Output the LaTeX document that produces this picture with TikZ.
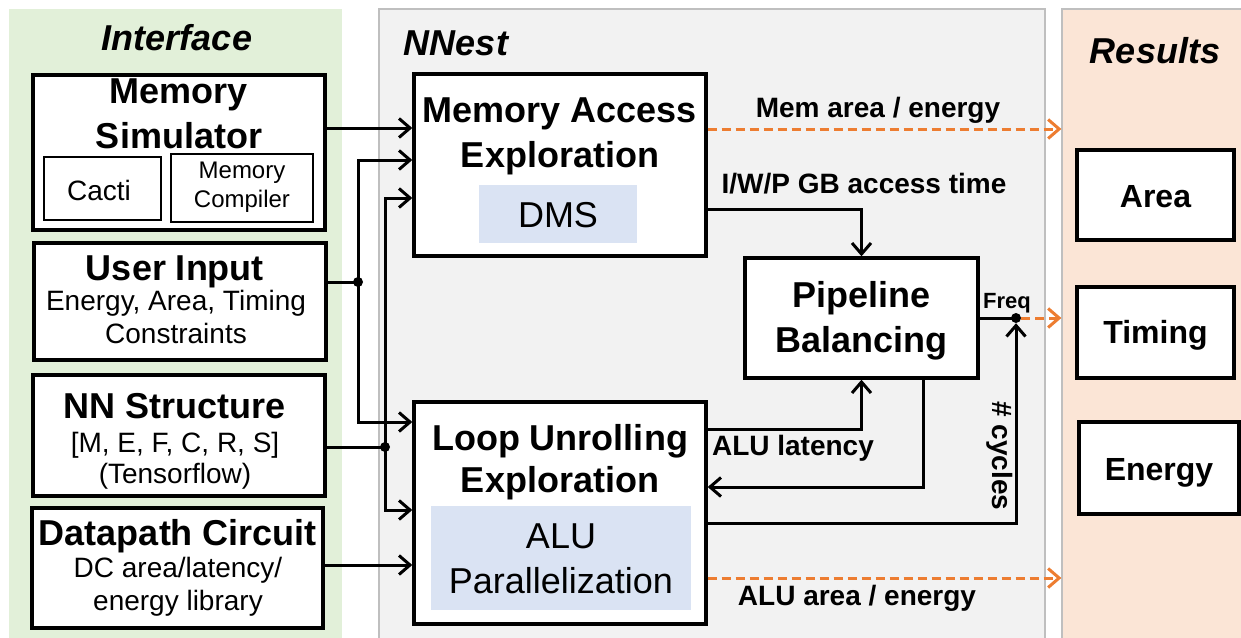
\documentclass[tikz,border=0pt]{standalone}
\usepackage{fontspec}
\setmainfont{Liberation Sans}
\usetikzlibrary{arrows.meta}

\definecolor{ifacebg}{HTML}{E2F0D9}
\definecolor{nnestbg}{HTML}{F2F2F2}
\definecolor{resbg}{HTML}{FBE5D6}
\definecolor{subbg}{HTML}{DAE3F3}
\definecolor{outorange}{HTML}{ED7D31}
\definecolor{panelline}{HTML}{BFBFBF}

\newcommand\FTitle{\fontsize{36}{40}\selectfont\bfseries}
\newcommand\FPanel{\fontsize{36}{40}\selectfont\bfseries\itshape}
\newcommand\FBody{\fontsize{28}{32}\selectfont}
\newcommand\FSub{\fontsize{36}{40}\selectfont}
\newcommand\FSmallBody{\fontsize{24}{28}\selectfont}
\newcommand\FLbl{\fontsize{28}{32}\selectfont\bfseries}
\newcommand\FRes{\fontsize{32}{36}\selectfont\bfseries}
\newcommand\FTiny{\fontsize{22}{26}\selectfont\bfseries}

\begin{document}
\begin{tikzpicture}[x=1pt,y=-1pt,
  panel/.style={inner sep=0pt, draw=panelline, line width=1.2pt},
  box/.style={draw=black, line width=3.4pt, fill=white, inner sep=0pt},
  smallbox/.style={draw=black, line width=2.8pt, fill=white, inner sep=0pt},
  subbox/.style={fill=subbg, inner sep=0pt},
  txt/.style={inner sep=0pt, anchor=base},
  wire/.style={draw=black, line width=3pt},
  conn/.style={wire, -{Straight Barb[length=11pt,width=19pt]}},
  outarrow/.style={draw=outorange, line width=3pt, dash pattern=on 9pt off 5pt,
    -{Straight Barb[length=11pt,width=19pt]}},
  dot/.style={circle, fill=black, inner sep=0pt, minimum size=10pt}]

\useasboundingbox (0,0) rectangle (1241,637);
\fill[white] (0,0) rectangle (1241,637);

% background panels
\node[panel, draw=none, fill=ifacebg, minimum width=333pt, minimum height=634pt] (ifpanel) at (175.5,326) {};
\node[panel, fill=nnestbg, minimum width=666pt, minimum height=634pt] (nnpanel) at (712,326) {};
\node[panel, fill=resbg, minimum width=185pt, minimum height=634pt] (respanel) at (1154.5,326) {};

\node[txt] (tif) at (177,50) {\FPanel Interface};
\node[txt] (tnn) at (456,55) {\FPanel NNest};
\node[txt] (tres) at (1155,63) {\FPanel Results};

% interface blocks
\node[box, minimum width=292pt, minimum height=155pt] (msim) at (179,152.5) {};
\node[txt] (msim1) at (179,103) {\FTitle Memory};
\node[txt] (msim2) at (179,148) {\FTitle Simulator};
\node[smallbox, minimum width=117pt, minimum height=63pt] (cacti) at (102.5,188.5) {};
\node[txt] (cactit) at (99,200) {\FBody Cacti};
\node[smallbox, minimum width=142pt, minimum height=68pt] (mcomp) at (242,188) {};
\node[txt] (mcomp1) at (242,178) {\FSmallBody Memory};
\node[txt] (mcomp2) at (242,207) {\FSmallBody Compiler};

\node[box, minimum width=292pt, minimum height=117pt] (uin) at (180,301.5) {};
\node[txt] (uin1) at (175,280) {\FTitle User Input};
\node[txt] (uin2) at (176,310) {\FBody Energy, Area, Timing};
\node[txt] (uin3) at (176,343) {\FBody Constraints};

\node[box, minimum width=292pt, minimum height=121pt] (nns) at (179,435.5) {};
\node[txt] (nns1) at (175,418) {\FTitle NN Structure};
\node[txt] (nns2) at (175,452) {\FBody [M, E, F, C, R, S]};
\node[txt] (nns3) at (175,483) {\FBody (Tensorflow)};

\node[box, minimum width=291pt, minimum height=120pt] (dpc) at (177.5,568) {};
\node[txt] (dpc1) at (178,545) {\FTitle Datapath Circuit};
\node[txt] (dpc2) at (178,577) {\FBody DC area/latency/};
\node[txt] (dpc3) at (178,610) {\FBody energy library};

% NNest blocks
\node[box, minimum width=292pt, minimum height=182pt] (mae) at (560,165) {};
\node[txt] (mae1) at (560,122) {\FTitle Memory Access};
\node[txt] (mae2) at (560,167) {\FTitle Exploration};
\node[subbox, minimum width=158pt, minimum height=58pt] (dms) at (558,214) {};
\node[txt] (dmst) at (558,227) {\FSub DMS};

\node[box, minimum width=292pt, minimum height=222pt] (lue) at (560,513) {};
\node[txt] (lue1) at (560,450) {\FTitle Loop Unrolling};
\node[txt] (lue2) at (560,492) {\FTitle Exploration};
\node[subbox, minimum width=260pt, minimum height=104pt] (alup) at (561,558) {};
\node[txt] (alup1) at (561,548) {\FSub ALU};
\node[txt] (alup2) at (561,593) {\FSub Parallelization};

\node[box, minimum width=233pt, minimum height=120pt] (pb) at (861.5,318) {};
\node[txt] (pb1) at (861.5,307) {\FTitle Pipeline};
\node[txt] (pb2) at (861.5,352) {\FTitle Balancing};

% result blocks
\node[box, minimum width=157pt, minimum height=90pt] (area) at (1155.5,195) {};
\node[txt] (areat) at (1155.5,207) {\FRes Area};
\node[box, minimum width=157pt, minimum height=91pt] (timing) at (1155.5,332.5) {};
\node[txt] (timingt) at (1155.5,343) {\FRes Timing};
\node[box, minimum width=160pt, minimum height=92pt] (energy) at (1159,468) {};
\node[txt] (energyt) at (1159,480) {\FRes Energy};

% junctions
\node[dot] (j1) at (358,282) {};
\node[dot] (j2) at (385,447) {};
\node[dot] (jf) at (1016,318) {};

% inputs into the exploration blocks
\draw[conn] (msim.east |- 0,128) -- (mae.west |- 0,128);
\draw[wire] (uin.east |- j1) -- (j1.center);
\draw[conn] (j1.center) |- (mae.west |- 0,160);
\draw[conn] (j1.center) |- (lue.west |- 0,422);
\draw[wire] (nns.east |- j2) -- (j2.center);
\draw[conn] (j2.center) |- (mae.west |- 0,198);
\draw[conn] (j2.center) |- (lue.west |- 0,510);
\draw[conn] (dpc.east |- 0,565) -- (lue.west |- 0,565);

% internal feedback
\draw[conn] (mae.east |- 0,209) -| (pb.north);
\draw[conn] (lue.east |- 0,429) -| (pb.south);
\draw[conn] (pb.south -| 923,0) |- (lue.east |- 0,487);
\draw[conn] (lue.east |- 0,523) -| (jf.south);
\draw[wire] (pb.east) -- (jf.center);

% outputs
\draw[outarrow] (mae.east |- 0,129) -- (respanel.west |- 0,129);
\draw[outarrow] (jf.east) -- (respanel.west |- jf);
\draw[outarrow] (lue.east |- 0,578) -- (respanel.west |- 0,578);

% connector labels
\node[txt] (lmem) at (878,117) {\FLbl Mem area / energy};
\node[txt] (lgb) at (864,193) {\FLbl I/W/P GB access time};
\node[txt] (lfreq) at (1007,308) {\FTiny Freq};
\node[txt] (llat) at (793,455) {\FLbl ALU latency};
\node[inner sep=0pt, rotate=-90] (lcyc) at (1000,456) {\FLbl \# cycles};
\node[txt] (lalu) at (857,605) {\FLbl ALU area / energy};
\end{tikzpicture}
\end{document}
